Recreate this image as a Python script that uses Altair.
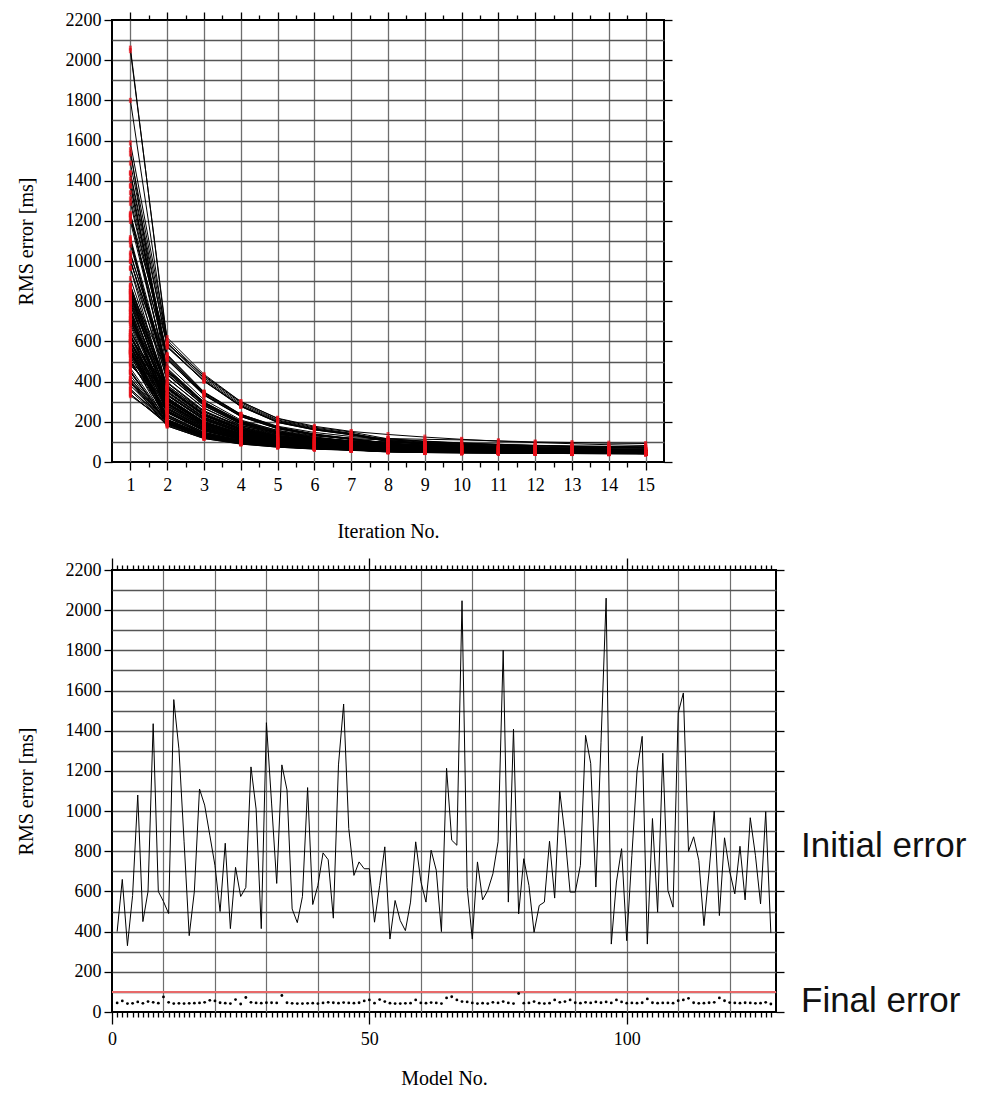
import altair as alt
import pandas as pd

SERIF = "Liberation Serif"
SANS = "Liberation Sans"

model_no = list(range(1, 129))
iteration_no = list(range(1, 16))
threshold = 100

# RMS error of each starting model before the first iteration [ms]
initial_error = [400, 660, 330, 580, 1080, 450, 600, 1435, 600, 550,
                 490, 1555, 1310, 850, 380, 600, 1110, 1030, 880, 730,
                 500, 840, 415, 720, 575, 620, 1220, 1010, 415, 1440,
                 1040, 640, 1230, 1105, 513, 445, 575, 1117, 535, 630,
                 792, 758, 467, 1230, 1533, 913, 680, 747, 713, 713,
                 447, 630, 822, 363, 555, 455, 405, 547, 847, 650,
                 547, 805, 705, 400, 1213, 855, 830, 2047, 620, 363,
                 747, 558, 605, 688, 847, 1800, 547, 1408, 488, 763,
                 630, 397, 530, 547, 850, 567, 1097, 880, 597, 597,
                 730, 1377, 1238, 622, 1340, 2060, 338, 647, 813, 355,
                 780, 1197, 1372, 338, 963, 497, 1288, 605, 522, 1488,
                 1588, 800, 872, 755, 430, 700, 1000, 480, 867, 700,
                 588, 825, 558, 967, 780, 538, 997, 393]

# RMS error after the last (15th) iteration [ms]
final_error = [45, 55, 42, 43, 50, 43, 52, 48, 44, 75,
               48, 42, 43, 42, 43, 44, 45, 48, 58, 55,
               46, 44, 42, 62, 40, 72, 48, 45, 44, 46,
               46, 45, 82, 46, 43, 42, 42, 43, 44, 42,
               45, 48, 46, 44, 47, 45, 44, 46, 55, 60,
               44, 62, 52, 44, 42, 42, 43, 44, 60, 45,
               44, 47, 45, 42, 70, 76, 60, 52, 50, 45,
               42, 44, 42, 48, 45, 52, 45, 42, 92, 44,
               45, 52, 44, 42, 44, 60, 48, 52, 60, 46,
               44, 48, 45, 50, 46, 50, 45, 60, 50, 44,
               45, 44, 46, 65, 46, 44, 45, 45, 44, 56,
               60, 68, 46, 43, 44, 46, 48, 70, 56, 47,
               45, 44, 46, 45, 43, 44, 48, 40]

# RMS error at iterations 2..14, one row per model [ms]
intermediate_error = [
    [195, 127, 96, 79, 69, 62, 55, 52, 50, 49, 48, 47, 46],
    [279, 175, 126, 100, 87, 78, 77, 71, 67, 63, 61, 59, 57],
    [200, 130, 97, 80, 69, 61, 52, 49, 47, 46, 45, 44, 43],
    [232, 146, 107, 86, 74, 66, 58, 54, 51, 49, 47, 46, 44],
    [436, 281, 190, 144, 116, 100, 88, 78, 70, 64, 60, 56, 53],
    [194, 124, 94, 78, 68, 61, 53, 50, 48, 47, 46, 45, 44],
    [305, 191, 136, 107, 91, 81, 74, 68, 64, 60, 58, 56, 54],
    [512, 334, 227, 166, 134, 113, 94, 82, 73, 66, 60, 55, 51],
    [228, 143, 104, 84, 74, 65, 59, 55, 52, 50, 48, 47, 45],
    [393, 251, 175, 137, 118, 107, 100, 95, 90, 86, 82, 79, 77],
    [254, 160, 116, 93, 80, 72, 63, 59, 56, 54, 52, 51, 49],
    [398, 256, 175, 133, 108, 92, 80, 70, 62, 56, 52, 48, 45],
    [519, 339, 232, 170, 137, 114, 89, 77, 68, 61, 55, 50, 46],
    [288, 180, 128, 102, 87, 76, 64, 58, 54, 50, 48, 46, 44],
    [197, 129, 97, 80, 69, 62, 53, 50, 48, 47, 46, 45, 44],
    [209, 133, 97, 80, 70, 62, 59, 55, 52, 50, 48, 47, 45],
    [354, 224, 155, 120, 100, 88, 75, 67, 61, 56, 53, 50, 47],
    [483, 310, 209, 156, 125, 105, 86, 76, 68, 62, 58, 54, 51],
    [350, 221, 154, 120, 101, 89, 88, 80, 74, 69, 66, 63, 60],
    [295, 187, 134, 106, 91, 82, 77, 71, 67, 63, 61, 59, 57],
    [222, 141, 104, 85, 74, 66, 61, 57, 54, 52, 50, 49, 47],
    [321, 199, 140, 110, 92, 80, 66, 60, 56, 52, 50, 48, 46],
    [196, 128, 96, 78, 68, 60, 52, 49, 47, 46, 45, 44, 43],
    [345, 219, 154, 121, 103, 91, 90, 84, 78, 73, 70, 67, 64],
    [210, 136, 101, 82, 69, 61, 50, 47, 45, 44, 43, 42, 41],
    [372, 239, 168, 132, 113, 103, 99, 93, 88, 83, 80, 77, 74],
    [509, 332, 226, 165, 134, 113, 94, 82, 73, 66, 60, 55, 51],
    [370, 235, 162, 125, 104, 91, 75, 67, 61, 56, 53, 50, 47],
    [204, 132, 98, 81, 70, 63, 54, 51, 49, 48, 47, 46, 45],
    [578, 405, 277, 197, 160, 135, 101, 88, 77, 68, 61, 55, 50],
    [449, 289, 196, 148, 119, 101, 84, 74, 66, 60, 56, 52, 49],
    [212, 134, 98, 80, 70, 63, 60, 56, 53, 51, 49, 48, 46],
    [590, 430, 300, 218, 178, 152, 137, 124, 113, 104, 97, 91, 86],
    [394, 250, 172, 131, 108, 94, 76, 68, 62, 57, 54, 51, 48],
    [191, 124, 94, 77, 66, 60, 53, 50, 48, 47, 46, 45, 44],
    [199, 129, 97, 79, 68, 61, 52, 49, 47, 46, 45, 44, 43],
    [202, 128, 95, 78, 68, 61, 57, 53, 50, 48, 46, 45, 43],
    [438, 281, 191, 144, 116, 98, 81, 71, 63, 57, 53, 49, 46],
    [253, 159, 114, 92, 79, 69, 59, 55, 52, 50, 48, 47, 45],
    [263, 166, 119, 95, 81, 72, 64, 58, 54, 50, 48, 46, 44],
    [309, 192, 136, 107, 91, 80, 67, 61, 57, 53, 51, 49, 47],
    [320, 201, 142, 112, 95, 83, 70, 64, 60, 56, 54, 52, 50],
    [206, 134, 100, 82, 72, 65, 56, 53, 51, 50, 49, 48, 47],
    [446, 286, 194, 146, 117, 100, 82, 72, 64, 58, 54, 50, 47],
    [595, 411, 282, 201, 162, 137, 102, 89, 78, 69, 62, 56, 51],
    [370, 235, 163, 125, 104, 91, 75, 67, 61, 56, 53, 50, 47],
    [246, 156, 112, 90, 77, 68, 59, 55, 52, 50, 48, 47, 45],
    [250, 158, 115, 93, 81, 72, 68, 62, 58, 54, 52, 50, 48],
    [303, 190, 136, 108, 92, 82, 77, 71, 67, 63, 61, 59, 57],
    [366, 232, 161, 125, 105, 93, 90, 82, 76, 71, 68, 65, 62],
    [212, 138, 103, 84, 72, 65, 54, 51, 49, 48, 47, 46, 45],
    [304, 193, 140, 112, 96, 88, 84, 78, 74, 70, 68, 66, 64],
    [337, 215, 150, 116, 99, 88, 82, 74, 68, 63, 60, 57, 54],
    [191, 125, 95, 79, 68, 61, 54, 51, 49, 48, 47, 46, 45],
    [221, 140, 102, 83, 72, 64, 57, 53, 50, 48, 46, 45, 43],
    [193, 126, 94, 77, 66, 60, 52, 49, 47, 46, 45, 44, 43],
    [204, 132, 99, 81, 70, 63, 53, 50, 48, 47, 46, 45, 44],
    [203, 128, 95, 78, 68, 62, 59, 55, 52, 50, 48, 47, 45],
    [368, 232, 161, 125, 106, 94, 90, 82, 76, 71, 68, 65, 62],
    [308, 193, 137, 108, 91, 80, 67, 61, 57, 53, 51, 49, 47],
    [249, 157, 113, 91, 78, 69, 59, 55, 52, 50, 48, 47, 45],
    [280, 175, 125, 100, 85, 76, 69, 63, 59, 55, 53, 51, 49],
    [312, 197, 139, 109, 92, 80, 67, 61, 57, 53, 51, 49, 47],
    [180, 117, 89, 74, 65, 59, 52, 49, 47, 46, 45, 44, 43],
    [518, 344, 237, 178, 147, 127, 116, 104, 95, 88, 82, 77, 73],
    [458, 297, 204, 158, 130, 115, 110, 102, 94, 88, 83, 80, 78],
    [331, 211, 148, 116, 100, 93, 90, 82, 76, 71, 68, 65, 62],
    [605, 426, 295, 210, 169, 143, 107, 94, 83, 74, 67, 61, 56],
    [269, 169, 122, 98, 85, 77, 72, 66, 62, 58, 56, 54, 52],
    [199, 130, 98, 81, 71, 63, 55, 52, 50, 49, 48, 47, 46],
    [245, 154, 111, 89, 77, 68, 57, 53, 50, 48, 46, 45, 43],
    [223, 140, 103, 84, 73, 64, 59, 55, 52, 50, 48, 47, 45],
    [256, 161, 116, 93, 79, 70, 57, 53, 50, 48, 46, 45, 43],
    [290, 182, 130, 103, 88, 78, 70, 64, 60, 56, 54, 52, 50],
    [369, 234, 161, 124, 103, 90, 75, 67, 61, 56, 53, 50, 47],
    [574, 402, 276, 197, 160, 136, 107, 94, 83, 74, 67, 61, 56],
    [197, 125, 93, 77, 69, 62, 60, 56, 53, 51, 49, 48, 46],
    [463, 296, 201, 151, 121, 102, 80, 70, 62, 56, 52, 48, 45],
    [380, 250, 180, 148, 130, 120, 117, 113, 110, 105, 100, 97, 94],
    [277, 173, 124, 99, 84, 75, 66, 60, 56, 52, 50, 48, 46],
    [296, 187, 133, 105, 89, 79, 67, 61, 57, 53, 51, 49, 47],
    [203, 133, 101, 84, 74, 69, 62, 59, 57, 56, 55, 54, 53],
    [209, 132, 98, 80, 71, 63, 59, 55, 52, 50, 48, 47, 45],
    [265, 167, 118, 94, 80, 69, 57, 53, 50, 48, 46, 45, 43],
    [361, 229, 159, 122, 101, 89, 74, 66, 60, 55, 52, 49, 46],
    [290, 184, 133, 107, 93, 84, 82, 76, 72, 68, 66, 64, 62],
    [417, 269, 183, 139, 113, 96, 86, 76, 68, 62, 58, 54, 51],
    [375, 238, 164, 126, 106, 93, 82, 74, 68, 63, 60, 57, 54],
    [293, 185, 134, 108, 94, 86, 82, 76, 72, 68, 66, 64, 62],
    [253, 159, 115, 93, 80, 71, 61, 57, 54, 52, 50, 49, 47],
    [265, 165, 119, 95, 81, 73, 66, 60, 56, 52, 50, 48, 46],
    [536, 349, 238, 175, 140, 117, 94, 82, 73, 66, 60, 55, 51],
    [434, 279, 189, 142, 114, 97, 83, 73, 65, 59, 55, 51, 48],
    [331, 207, 146, 115, 96, 85, 72, 66, 62, 58, 56, 54, 52],
    [531, 346, 235, 171, 137, 114, 92, 80, 71, 64, 58, 53, 49],
    [588, 419, 288, 206, 165, 141, 105, 92, 81, 72, 65, 59, 54],
    [187, 123, 94, 78, 68, 61, 55, 52, 50, 49, 48, 47, 46],
    [312, 197, 141, 113, 97, 88, 82, 76, 72, 68, 66, 64, 62],
    [334, 212, 147, 114, 97, 86, 80, 72, 66, 61, 58, 55, 52],
    [184, 120, 92, 77, 66, 60, 54, 51, 49, 48, 47, 46, 45],
    [321, 200, 142, 111, 93, 82, 67, 61, 57, 53, 51, 49, 47],
    [454, 291, 197, 149, 120, 102, 82, 72, 64, 58, 54, 50, 47],
    [512, 335, 229, 167, 135, 113, 92, 80, 71, 64, 58, 53, 49],
    [190, 128, 100, 88, 81, 77, 75, 72, 70, 69, 68, 67, 66],
    [336, 214, 149, 115, 97, 86, 76, 68, 62, 57, 54, 51, 48],
    [253, 160, 115, 93, 80, 70, 59, 55, 52, 50, 48, 47, 45],
    [528, 345, 235, 172, 138, 116, 91, 79, 70, 63, 57, 52, 48],
    [271, 170, 122, 97, 83, 74, 67, 61, 57, 53, 51, 49, 47],
    [236, 149, 108, 88, 76, 67, 59, 55, 52, 50, 48, 47, 45],
    [571, 403, 279, 200, 163, 140, 111, 98, 87, 78, 71, 65, 60],
    [619, 436, 301, 216, 173, 149, 115, 102, 91, 82, 75, 69, 64],
    [365, 234, 163, 128, 111, 100, 98, 90, 84, 79, 76, 73, 70],
    [382, 243, 168, 129, 107, 94, 76, 68, 62, 57, 54, 51, 48],
    [258, 161, 117, 93, 80, 72, 65, 59, 55, 51, 49, 47, 45],
    [199, 129, 97, 80, 70, 63, 54, 51, 49, 48, 47, 46, 45],
    [285, 178, 128, 101, 87, 77, 68, 62, 58, 54, 52, 50, 48],
    [467, 299, 202, 152, 122, 103, 86, 76, 68, 62, 58, 54, 51],
    [304, 194, 141, 116, 101, 93, 90, 85, 81, 78, 75, 73, 71],
    [349, 221, 154, 120, 102, 91, 86, 78, 72, 67, 64, 61, 58],
    [317, 198, 140, 110, 93, 82, 69, 63, 59, 55, 53, 51, 49],
    [209, 133, 97, 80, 70, 63, 60, 56, 53, 51, 49, 48, 46],
    [369, 235, 161, 124, 103, 90, 74, 66, 60, 55, 52, 49, 46],
    [248, 157, 113, 92, 79, 70, 61, 57, 54, 52, 50, 49, 47],
    [416, 267, 182, 138, 112, 95, 83, 73, 65, 59, 55, 51, 48],
    [315, 198, 140, 110, 92, 80, 65, 59, 55, 51, 49, 47, 45],
    [232, 147, 107, 86, 74, 65, 59, 55, 52, 50, 48, 47, 45],
    [455, 292, 198, 149, 120, 102, 86, 76, 68, 62, 58, 54, 51],
    [179, 117, 90, 74, 64, 58, 50, 47, 45, 44, 43, 42, 41],
]

# long table: one row per model and iteration
records = []
for m, first, middle, last in zip(model_no, initial_error, intermediate_error, final_error):
    for it, v in zip(iteration_no, [first] + middle + [last]):
        records.append({"model": m, "iteration": it, "rms": v})
paths = pd.DataFrame(records)

models = pd.DataFrame({"model": model_no, "initial": initial_error, "final": final_error})

# tick positions
iter_ticks = [k / 2 for k in range(2, 31)]       # 1, 1.5, ..., 15
model_ticks = list(range(0, 129))
rms_ticks = list(range(0, 2201, 100))
rms_major = list(range(0, 2201, 200))

rms_scale = alt.Scale(domain=[0, 2200], nice=False, zero=True)
iter_scale = alt.Scale(domain=[0.5, 15.5], nice=False, zero=False)
model_scale = alt.Scale(domain=[0, 129], nice=False, zero=True)

GRID_H = "#555555"
GRID_V = "#6e6e6e"


def rms_left_axis():
    return alt.Axis(
        orient="left", values=rms_ticks,
        labelExpr="datum.value % 200 == 0 ? format(datum.value, 'd') : ''",
        tickSize={"condition": {"test": "datum.value % 200 == 0", "value": 8}, "value": 0},
        grid=True, gridColor=GRID_H, gridWidth=1.4,
        gridOpacity={"condition": {"test": "datum.value > 0 && datum.value < 2200", "value": 1}, "value": 0},
        title="RMS error [ms]", titlePadding=29, labelPadding=3, labelOverlap=False,
    )


def rms_right_axis():
    return alt.Axis(orient="right", values=rms_major, labels=False, tickSize=8,
                    grid=False, title=None)


# ---- top panel: convergence of every model ----
iter_bottom = alt.Axis(
    orient="bottom", values=iter_ticks,
    labelExpr="datum.value % 1 == 0 ? format(datum.value, 'd') : ''",
    tickSize={"condition": {"test": "datum.value % 1 == 0", "value": 8}, "value": 5},
    grid=True, gridColor=GRID_V, gridWidth=1.3,
    gridOpacity={"condition": {"test": "datum.value % 1 == 0", "value": 1}, "value": 0},
    title="Iteration No.", titlePadding=27, labelPadding=6,
    labelOverlap=False, labelFlush=False,
)
iter_top = alt.Axis(
    orient="top", values=iter_ticks, labels=False, grid=False, title=None,
    tickSize={"condition": {"test": "datum.value % 1 == 0", "value": 8}, "value": 5},
)

curves = alt.Chart(paths).mark_line(color="black", strokeWidth=1).encode(
    x=alt.X("iteration:Q", scale=iter_scale, axis=iter_bottom),
    y=alt.Y("rms:Q", scale=rms_scale, axis=rms_left_axis()),
    detail="model:N",
    order="iteration:Q",
)
markers = alt.Chart(paths).mark_tick(color="#e8101a", orient="vertical", size=5, thickness=3).encode(
    x=alt.X("iteration:Q", scale=iter_scale, axis=iter_top),
    y=alt.Y("rms:Q", scale=rms_scale, axis=rms_right_axis()),
)
top = alt.layer(curves, markers).resolve_axis(x="independent", y="independent").properties(
    width=552, height=442
)

# ---- bottom panel: initial vs final error per model ----
model_bottom = alt.Axis(
    orient="bottom", values=model_ticks,
    labelExpr="datum.value % 50 == 0 ? format(datum.value, 'd') : ''",
    tickSize={"condition": {"test": "datum.value % 50 == 0", "value": 12}, "value": 5},
    grid=True, gridColor=GRID_V, gridWidth=1.2,
    gridOpacity={"condition": {"test": "datum.value % 10 == 0 && datum.value > 0", "value": 1}, "value": 0},
    title="Model No.", titlePadding=20, labelPadding=6,
    labelOverlap=False, labelFlush=False,
)
model_top = alt.Axis(
    orient="top", values=model_ticks, labels=False, grid=False, title=None,
    tickSize={"condition": {"test": "datum.value % 50 == 0", "value": 12}, "value": 5},
)

initial_line = alt.Chart(models).mark_line(color="black", strokeWidth=1).encode(
    x=alt.X("model:Q", scale=model_scale, axis=model_bottom),
    y=alt.Y("initial:Q", scale=rms_scale, axis=rms_left_axis()),
)
final_dots = alt.Chart(models).mark_circle(color="black", size=8, opacity=1).encode(
    x=alt.X("model:Q", scale=model_scale, axis=model_top),
    y=alt.Y("final:Q", scale=rms_scale, axis=rms_right_axis()),
)
limit_rule = alt.Chart(models).mark_rule(color="#e86a6a", strokeWidth=1.2).encode(
    y=alt.YDatum(threshold, scale=rms_scale, axis=None),
)
label_initial = alt.Chart(pd.DataFrame({"t": ["Initial error"]})).mark_text(
    font=SANS, fontSize=35, align="left", baseline="middle", color="#111111"
).encode(text="t:N", x=alt.value(689), y=alt.value(276))
label_final = alt.Chart(pd.DataFrame({"t": ["Final error"]})).mark_text(
    font=SANS, fontSize=35, align="left", baseline="middle", color="#111111"
).encode(text="t:N", x=alt.value(689), y=alt.value(431))

bottom = alt.layer(limit_rule, initial_line, final_dots, label_initial, label_final).resolve_axis(
    x="independent", y="independent"
).properties(width=664, height=442)

chart = alt.vconcat(top, bottom, spacing=14).properties(
    padding={"left": 15, "top": 10, "right": 4, "bottom": 2}
).configure_view(
    stroke="black", strokeWidth=2
).configure_axis(
    domain=False, tickColor="black", tickWidth=1.3,
    labelFont=SERIF, labelFontSize=18, labelColor="black",
    titleFont=SERIF, titleFontSize=20, titleFontWeight="normal", titleColor="black",
)

chart.save("out.html", embed_options={"renderer": "svg", "actions": False})
